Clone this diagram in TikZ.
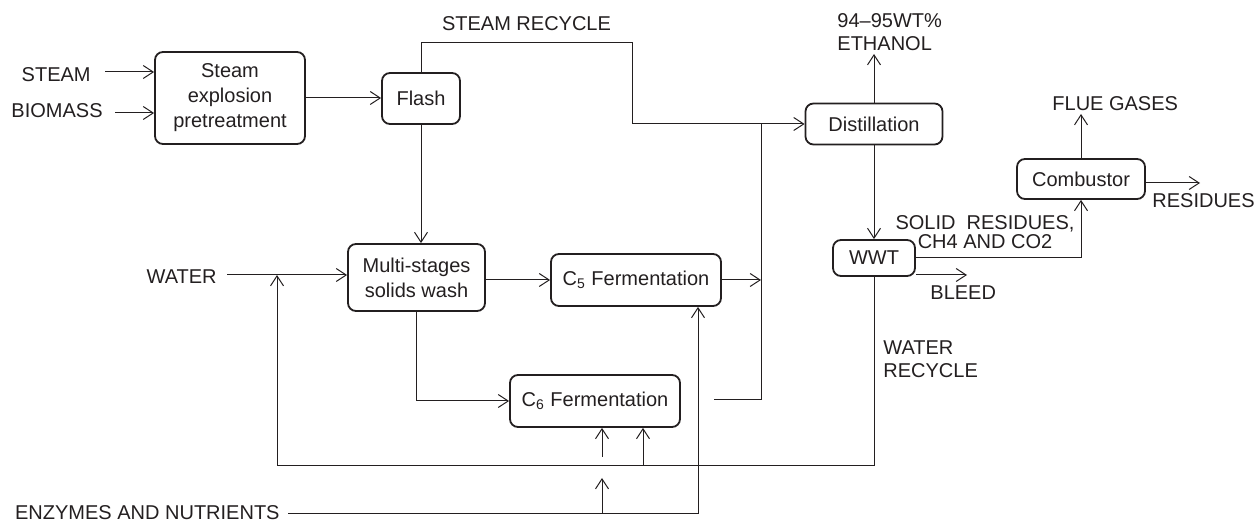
\documentclass[tikz,border=0pt]{standalone}
\usepackage{fontspec}
\setmainfont{Liberation Sans}
\usetikzlibrary{arrows.meta,calc,positioning}
\definecolor{Ink}{HTML}{231F20}

\begin{document}
\begin{tikzpicture}[
    x=1pt,y=1pt,
    node distance=3pt,
    unit/.style={draw=Ink,line width=0.9pt,rounded corners=4pt,align=center,
      inner sep=1pt,text=Ink,font=\fontsize{10}{12.5}\selectfont},
    stream/.style={inner sep=1pt,text=Ink,font=\fontsize{10}{11.5}\selectfont},
    pipe/.style={draw=Ink,line width=0.5pt},
    arrow/.style={pipe,-{Straight Barb[length=5pt,width=6.5pt]}}
  ]
  \useasboundingbox (0,0) rectangle (628,262);

  % process units
  \node[unit,minimum width=75pt,minimum height=46pt] (pretreat) at (115,213)
    {Steam\\explosion\\pretreatment};
  \node[unit,minimum width=39pt,minimum height=25.5pt] (flash) at (210.5,212.75) {Flash};
  \node[unit,minimum width=68.5pt,minimum height=20.5pt] (distill) at (437,200) {Distillation};
  \node[unit,minimum width=64pt,minimum height=20pt] (combust) at (540.5,172.5) {Combustor};
  \node[unit,minimum width=41pt,minimum height=18pt] (wwt) at (437,133) {WWT};
  \node[unit,minimum width=68.5pt,minimum height=33.5pt] (wash) at (208.25,123.25)
    {Multi-stages\\solids wash};
  \node[unit,minimum width=85pt,minimum height=26pt] (ferm5) at (318,122)
    {C\textsubscript{5} Fermentation};
  \node[unit,minimum width=85pt,minimum height=26pt] (ferm6) at (297.5,61.5)
    {C\textsubscript{6} Fermentation};

  % free ends and bends
  \coordinate (steamin) at (52.5,226);
  \coordinate (biomassin) at (57.5,205.5);
  \coordinate (waterin) at (113.5,124.5);
  \coordinate (enzin) at (144,5.5);
  \coordinate (enzbend) at (349,5.5);
  \coordinate (enztap) at (301,5.5);
  \coordinate (enzgap) at (301,33.5);
  \coordinate (recycle) at (316,240.5);
  \coordinate (mixer) at (380.5,200);
  \coordinate (c6out) at (357,62);
  \coordinate (ethout) at (437,235);
  \coordinate (flueout) at (540.5,205);
  \coordinate (resout) at (600,170.5);
  \coordinate (bleedout) at (483.5,124.5);
  \coordinate (waterloop) at (138.5,29);
  \coordinate (looptap) at (321.5,29);

  % stream labels
  \node[stream,left=6pt of steamin,yshift=-1.5pt] (steam) {STEAM};
  \node[stream,left=5pt of biomassin,yshift=1pt] (biomass) {BIOMASS};
  \node[stream,left=4pt of waterin,yshift=-1pt] (water) {WATER};
  \node[stream,left=3pt of enzin] (enzymes) {ENZYMES AND NUTRIENTS};
  \node[stream,align=left,anchor=south west] (ethanol) at (417.5,235.5)
    {94--95WT\%\\ETHANOL};
  \node[stream,anchor=base west] (flue) at (525,206.5) {FLUE GASES};
  \node[stream,anchor=base west] (residues) at (575,158) {RESIDUES};
  \node[stream,align=center,anchor=south,font=\fontsize{10}{9.5}\selectfont] (solids)
    at (492.5,136.5) {SOLID~~RESIDUES,\\CH4 AND CO2};
  \node[stream,anchor=north west] (bleed) at (464,120.5) {BLEED};
  \node[stream,align=left,anchor=north west] (wrecycle) at (440.5,93)
    {WATER\\RECYCLE};

  % connectors
  \draw[arrow] (steamin) -- (steamin -| pretreat.west);
  \draw[arrow] (biomassin) -- (biomassin -| pretreat.west);
  \draw[arrow] (pretreat.east) -- (pretreat.east -| flash.west);
  \draw[arrow] (flash.north) |- node[stream,above=5pt,pos=0.75] {STEAM RECYCLE} (recycle)
    |- (distill.west);
  \draw[arrow] (flash.south) -- (flash.south |- wash.north);
  \draw[arrow] (waterin) -- (waterin -| wash.west);
  \draw[arrow] (wash.east |- ferm5.west) -- (ferm5.west);
  \draw[arrow] (wash.south) |- (ferm6.west);
  \draw[arrow] (ferm5.east) -- (ferm5.east -| mixer);
  \draw[pipe] (c6out) -| (mixer);
  \draw[arrow] (distill.north) -- (ethout);
  \draw[arrow] (distill.south) -- (distill.south |- wwt.north);
  \draw[arrow] (wwt.east) -| (combust.south);
  \draw[arrow] (combust.north) -- (flueout);
  \draw[arrow] ([yshift=-2pt]combust.east) -- (resout);
  \draw[arrow] (wwt.east |- bleedout) -- (bleedout);
  \draw[arrow] (wwt.south) |- (waterloop) -- (waterloop |- waterin);
  \draw[arrow] (looptap) -- (looptap |- ferm6.south);
  \draw[arrow] (enzin) -- (enzbend) -- (enzbend |- ferm5.south);
  \draw[arrow] (enztap) -- ++(0,17.5);
  \draw[arrow] (enzgap) -- (enzgap |- ferm6.south);
\end{tikzpicture}
\end{document}
